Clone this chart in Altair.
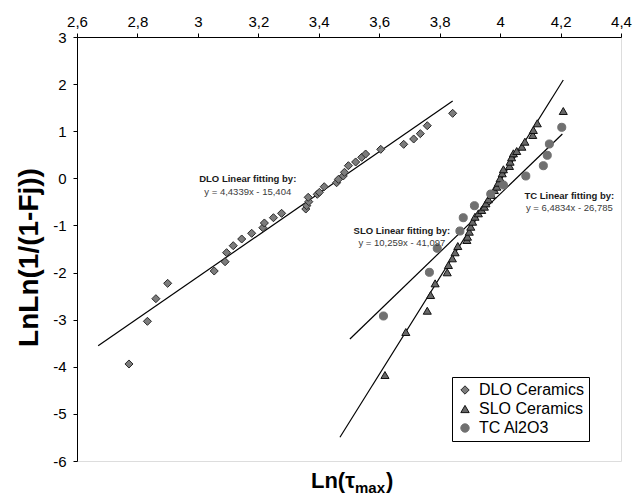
import altair as alt
import pandas as pd

# ---------------- data ----------------
x_ticks = [2.6, 2.8, 3.0, 3.2, 3.4, 3.6, 3.8, 4.0, 4.2, 4.4]
y_ticks = [-6, -5, -4, -3, -2, -1, 0, 1, 2, 3]

series_names = ["DLO Ceramics", "SLO Ceramics", "TC Al2O3"]

dlo_x = [2.772, 2.833, 2.861, 2.900, 3.054, 3.090, 3.095, 3.117, 3.145, 3.178,
         3.215, 3.220, 3.250, 3.277, 3.357, 3.360, 3.367, 3.365, 3.395, 3.402,
         3.418, 3.459, 3.465, 3.481, 3.485, 3.498, 3.522, 3.542, 3.555, 3.605,
         3.681, 3.714, 3.736, 3.759, 3.843]
dlo_y = [-3.941, -3.035, -2.555, -2.229, -1.967, -1.770, -1.578, -1.430, -1.288, -1.167,
         -1.048, -0.948, -0.836, -0.743, -0.651, -0.581, -0.496, -0.403, -0.339, -0.297,
         -0.178, -0.093, -0.021, 0.050, 0.128, 0.268, 0.347, 0.446, 0.516, 0.616,
         0.722, 0.835, 0.948, 1.117, 1.380]

slo_x = [3.619, 3.688, 3.759, 3.770, 3.785, 3.825, 3.829, 3.842, 3.851, 3.860,
         3.890, 3.892, 3.898, 3.903, 3.909, 3.917, 3.928, 3.939, 3.948, 3.953,
         3.961, 3.972, 3.981, 3.989, 3.994, 4.000, 4.007, 4.011, 4.031, 4.033,
         4.038, 4.044, 4.055, 4.072, 4.082, 4.108, 4.110, 4.123, 4.209]
slo_y = [-4.175, -3.262, -2.810, -2.477, -2.229, -1.995, -1.840, -1.698, -1.570, -1.437,
         -1.309, -1.239, -1.133, -1.027, -0.921, -0.815, -0.743, -0.672, -0.602, -0.531,
         -0.446, -0.354, -0.248, -0.178, -0.093, 0.001, 0.107, 0.192, 0.262, 0.353,
         0.446, 0.531, 0.580, 0.671, 0.778, 0.920, 1.026, 1.168, 1.429]

tc_x = [3.614, 3.766, 3.792, 3.867, 3.878, 3.915, 3.969, 4.011, 4.085, 4.143,
        4.156, 4.163, 4.204]
tc_y = [-2.922, -1.995, -1.486, -1.118, -0.836, -0.581, -0.333, -0.142, 0.050, 0.268,
        0.489, 0.729, 1.083]

# fitted lines (end points)
fit_name = ["DLO", "DLO", "SLO", "SLO", "TC", "TC"]
fit_x = [2.670, 3.843, 3.470, 4.209, 3.503, 4.206]
fit_y = [-3.553, 1.641, -5.497, 2.087, -3.410, 0.941]

# annotations
ann_title = ["DLO Linear fitting by:", "SLO Linear fitting by:", "TC Linear fitting by:"]
ann_eq = ["y = 4,4339x - 15,404", "y = 10,259x - 41,097", "y = 6,4834x - 26,785"]
ann_x = [3.165, 3.675, 4.229]
ann_y_title = [-0.014, -1.118, -0.375]
ann_y_eq = [-0.284, -1.373, -0.630]

# ---------------- tables ----------------
pts = pd.DataFrame({
    "x": dlo_x + slo_x + tc_x,
    "y": dlo_y + slo_y + tc_y,
    "series": [series_names[0]] * len(dlo_x) + [series_names[1]] * len(slo_x) + [series_names[2]] * len(tc_x),
})
fits = pd.DataFrame({"x": fit_x, "y": fit_y, "fit": fit_name})
ann_t = pd.DataFrame({"x": ann_x, "y": ann_y_title, "text": ann_title})
ann_e = pd.DataFrame({"x": ann_x, "y": ann_y_eq, "text": ann_eq})

FONT = "Liberation Sans"

X = alt.X("x:Q",
          scale=alt.Scale(domain=[2.6, 4.4], nice=False, zero=False),
          axis=alt.Axis(orient="top", values=x_ticks, title=None, grid=False,
                        labelExpr="replace(format(datum.value, '.1~f'), '.', ',')",
                        labelFlush=False, tickSize=4, labelPadding=4,
                        labelFontSize=15, labelFont=FONT, labelColor="black",
                        domainColor="black", tickColor="black"))
Y = alt.Y("y:Q",
          scale=alt.Scale(domain=[-6, 3], nice=False, zero=False),
          axis=alt.Axis(values=y_ticks, grid=False, title="LnLn(1/(1-Fj))",
                        labelExpr="toString(datum.value)",
                        tickSize=4, labelPadding=7, labelFontSize=15, labelFont=FONT,
                        labelColor="black", domainColor="black", tickColor="black",
                        titleFont=FONT, titleFontSize=28, titleFontWeight="bold",
                        titleColor="black", titleAngle=-90, titleX=-48, titleY=220,
                        titleAlign="center", titleBaseline="middle"))

points = alt.Chart(pts).mark_point(filled=True, size=65, strokeWidth=1, opacity=1).encode(
    x=X, y=Y,
    color=alt.Color("series:N", scale=alt.Scale(domain=series_names,
                    range=["#7c7c7c", "#676767", "#707070"]),
                    legend=alt.Legend(title=None, orient="none", legendX=375, legendY=340,
                                      labelFont=FONT, labelFontSize=16, labelColor="black",
                                      symbolSize=70, padding=5, rowPadding=3, labelOffset=6,
                                      strokeColor="black", fillColor="white",
                                      symbolStrokeWidth=1)),
    shape=alt.Shape("series:N", scale=alt.Scale(domain=series_names,
                    range=["diamond", "triangle-up", "circle"])),
    stroke=alt.Stroke("series:N", scale=alt.Scale(domain=series_names,
                      range=["#2a2a2a", "#111111", "#707070"])),
)

lines = alt.Chart(fits).mark_line(color="black", strokeWidth=1.2).encode(
    x=X, y=Y, detail="fit:N")

t_title = alt.Chart(ann_t).mark_text(font=FONT, fontSize=9.5, fontWeight="bold",
                                     color="#1a1a1a", align="center", baseline="middle").encode(
    x=X, y=Y, text="text:N")
t_eq = alt.Chart(ann_e).mark_text(font=FONT, fontSize=9.5, color="#3a3a3a",
                                  align="center", baseline="middle").encode(
    x=X, y=Y, text="text:N")

# x axis title with subscript
xt1 = alt.Chart(pd.DataFrame({"t": ["Ln(τ"]})).mark_text(
    font=FONT, fontSize=22, fontWeight="bold", color="black", align="right",
    baseline="alphabetic").encode(x=alt.value(278), y=alt.value(451), text="t:N")
xt2 = alt.Chart(pd.DataFrame({"t": ["max"]})).mark_text(
    font=FONT, fontSize=15, fontWeight="bold", color="black", align="left",
    baseline="alphabetic").encode(x=alt.value(278), y=alt.value(456), text="t:N")
xt3 = alt.Chart(pd.DataFrame({"t": [")"]})).mark_text(
    font=FONT, fontSize=22, fontWeight="bold", color="black", align="left",
    baseline="alphabetic").encode(x=alt.value(309), y=alt.value(451), text="t:N")

chart = alt.layer(lines, points, t_title, t_eq, xt1, xt2, xt3).properties(
    width=544, height=424,
    padding={"left": 77, "top": 37, "right": 23, "bottom": 37},
    autosize=alt.AutoSizeParams(type="none"),
).configure_view(stroke="black", strokeWidth=1.3).configure(background="white")

chart.save("out.html", embed_options={"renderer": "svg", "actions": False})
